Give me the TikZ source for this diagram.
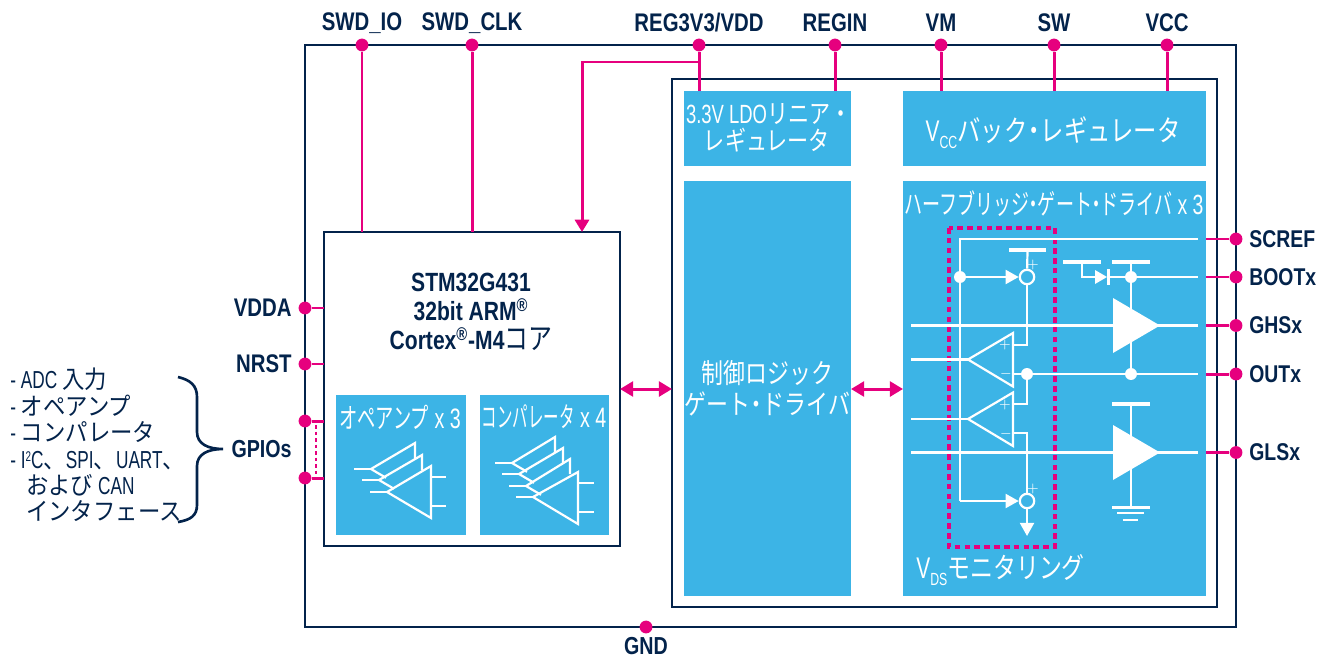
\documentclass[tikz,border=0pt]{standalone}
\usepackage{fontspec}
\setmainfont[FakeStretch=0.8]{Liberation Sans}
\newfontfamily\latc[FakeStretch=0.7]{Liberation Sans}
\newfontfamily\jpn[FakeStretch=0.8]{Noto Sans CJK JP}
\newfontfamily\jpl[FakeStretch=0.91]{Noto Sans CJK JP}
\newfontfamily\jpc[FakeStretch=0.65]{Noto Sans CJK JP}
\newfontfamily\jpd[FakeStretch=0.55]{Noto Sans CJK JP}
\newcommand{\nakaten}{\kern-2.8pt・\kern-2.8pt}
\usetikzlibrary{arrows.meta}
\tikzset{>=Stealth}
\definecolor{stnavy}{HTML}{03234B}
\definecolor{stblue}{HTML}{3CB4E6}
\definecolor{stpink}{HTML}{E6007E}
\tikzset{
  frm/.style={draw=stnavy, line width=1.6pt, inner sep=0pt, outer sep=0pt, anchor=north west},
  blk/.style={fill=stblue, text=white, inner sep=0pt, outer sep=0pt, anchor=north west, align=center,
    font=\fontsize{15.6}{17}\selectfont\latc},
  pin/.style={circle, fill=stpink, inner sep=0pt, minimum size=7.3pt},
  pinlbl/.style={text=stnavy, inner sep=0pt, font=\fontsize{14.5}{16}\selectfont\bfseries},
  sig/.style={draw=stpink, line width=1.7pt},
  wht/.style={draw=white, line width=1.25pt},
  whttxt/.style={text=white, inner sep=0pt, font=\fontsize{16}{18}\selectfont\latc},
  sgn/.style={text=white, inner sep=0pt, font=\fontsize{8}{8}\selectfont},
  jct/.style={circle, fill=white, inner sep=0pt, minimum size=6.8pt},
  sumr/.style={circle, draw=white, line width=1.25pt, inner sep=0pt, minimum size=8.2pt},
  whtarr/.style={wht, -{Triangle[length=7.5pt,width=8pt]}},
}
\begin{document}
\begin{tikzpicture}[x=0.02cm, y=-0.02cm]
  \useasboundingbox (0,0) rectangle (1317,659);
  % frames
  \node[frm, minimum width=931*0.02cm, minimum height=582*0.02cm] (chip) at (305,45) {};
  \node[frm, minimum width=545*0.02cm, minimum height=528*0.02cm] (pwr) at (672,79) {};
  \node[frm, minimum width=296*0.02cm, minimum height=314*0.02cm, align=center] (mcu) at (324,232) {};
  \node[text=stnavy, inner sep=0pt, align=center, font=\fontsize{15}{16.5}\selectfont\bfseries] (mcutxt) at (471,312)
    {STM32G431\\32bit ARM\textsuperscript{®}\\Cortex\textsuperscript{®}-M4{\jpn\mdseries\fontsize{17}{16.5}\selectfont コア}};
  % blue blocks
  \node[blk, minimum width=167*0.02cm, minimum height=75*0.02cm] (ldo) at (684,91) {};
  \node[blk, minimum width=303*0.02cm, minimum height=75*0.02cm] (buck) at (903,91) {};
  \node[blk, minimum width=167*0.02cm, minimum height=415*0.02cm] (ctrl) at (684,181)
    {{\jpn 制御ロジック}\\[0.6pt]{\jpn ゲート\nakaten ドライバ}};
  \node[blk, minimum width=303*0.02cm, minimum height=415*0.02cm] (hb) at (903,181) {};
  \node[blk, minimum width=130*0.02cm, minimum height=140*0.02cm] (opa) at (336,395) {};
  \node[blk, minimum width=129*0.02cm, minimum height=140*0.02cm] (cmp) at (480,395) {};
  \node[whttxt, align=center, font=\fontsize{15}{15}\selectfont\latc] (ldotxt) at (767,128)
    {3.3V LDO{\jpn リニア・\kern-2pt}\\[0.5pt]{\jpn レギュレータ}};
  \node[whttxt] (bucktxt) at (1053,130)
    {{\fontsize{17}{17}\selectfont V}\raisebox{-4pt}[0pt][0pt]{\fontsize{10}{10}\selectfont CC}{\jpn\fontsize{16.6}{17}\selectfont バック\nakaten レギュレータ}};
  \node[whttxt, font=\fontsize{15.8}{18}\selectfont\latc] (hbtxt) at (1054,204) {{\jpc ハーフブリッジ\nakaten ゲート\nakaten ドライバ} x 3};
  \node[whttxt] (opatxt) at (400,417) {{\jpc オペアンプ} x 3};
  \node[whttxt] (cmptxt) at (544,417) {{\jpd コンパレータ} x 4};
  \node[whttxt, anchor=west] (vdstxt) at (916,567) {{\fontsize{17}{17}\selectfont V}\raisebox{-4pt}[0pt][0pt]{\fontsize{10}{10}\selectfont DS}{\jpn\fontsize{16.3}{18}\selectfont モニタリング}};
  % pins along the top
  \foreach \nm/\xx/\txt in {swdio/362/SWD\_IO, swdclk/472/SWD\_CLK, reg/699/{REG3V3/VDD},
      regin/835/REGIN, vm/941/VM, sw/1054/SW, vcc/1167/VCC} {
    \node[pin] (\nm) at (\xx,45) {};
    \node[pinlbl] (\nm txt) at (\xx,23) {\txt};
  }
  \foreach \nm/\tg in {swdio/mcu, swdclk/mcu, reg/ldo, regin/ldo, vm/buck, sw/buck, vcc/buck}
    \draw[sig] (\nm) -- (\nm |- \tg.north);
  % supply branch into the MCU
  \coordinate (regtap) at (699,62);
  \coordinate (regbnd) at (582,62);
  \draw[sig, -{Triangle[length=7pt,width=8pt]}] (regtap) -- (regbnd) -- (regbnd |- mcu.north);
  % pins on the left
  \foreach \nm/\yy in {vdda/308, nrst/364, gpa/421, gpb/478} {
    \node[pin] (\nm) at (305,\yy) {};
    \draw[sig] (\nm) -- (\nm -| mcu.west);
  }
  \node[pinlbl, anchor=east] (vddatxt) at (292,308) {VDDA};
  \node[pinlbl, anchor=east] (nrsttxt) at (292,364) {NRST};
  \node[pinlbl, anchor=east, font=\fontsize{14}{16}\selectfont\bfseries] (gpiotxt) at (292,449) {GPIOs};
  \coordinate (gpdota) at (316,425);
  \coordinate (gpdotb) at (316,474);
  \draw[sig, dash pattern=on 2.2pt off 1.5pt] (gpdota) -- (gpdotb);
  % bottom pin
  \node[pin] (gnd) at (646,627) {};
  \node[pinlbl, font=\fontsize{14}{16}\selectfont\bfseries] (gndtxt) at (646,646) {GND};
  % pins on the right
  \foreach \nm/\yy/\txt in {scref/239/SCREF, boot/277/BOOTx, ghs/325.5/GHSx, out/374/OUTx, gls/452.5/GLSx} {
    \node[pin] (\nm) at (1236,\yy) {};
    \draw[sig] (\nm -| hb.east) -- (\nm);
    \node[pinlbl, anchor=west, font=\fontsize{13.8}{16}\selectfont\bfseries] (\nm txt) at (1249,\yy) {\txt};
  }
  % GPIO functions and brace
  \node[text=stnavy, inner sep=0pt, anchor=north west, align=left, font=\fontsize{14}{15}\selectfont\latc] (gplist) at (10,368)
    {- ADC {\jpl 入力}\\- {\jpl オペアンプ}\\- {\jpl コンパレータ}\\- I{\fontsize{8}{8}\selectfont\raisebox{4pt}{2}}C{\jpl 、}SPI{\jpl 、}UART{\jpl 、}\\
     \hspace*{9pt}{\jpl および} CAN\\\hspace*{9pt}{\jpl インタフェース}};
  \coordinate (brtop) at (178,377);
  \coordinate (brtip) at (223,449);
  \coordinate (brbot) at (178,522);
  \draw[stnavy, line width=1.5pt] (brtop) .. controls (190,380) and (197,385) .. (197,397) -- (197,432)
    .. controls (197,444) and (208,449) .. (brtip) .. controls (208,449) and (197,454) .. (197,466)
    -- (197,505) .. controls (197,516) and (190,520) .. (brbot);
  % bus arrows
  \coordinate (busa) at (mcu.east |- 0,389);
  \coordinate (busb) at (pwr.west |- 0,389);
  \coordinate (busc) at (ctrl.east |- 0,389);
  \coordinate (busd) at (hb.west |- 0,389);
  \draw[sig, {Triangle[length=7.5pt,width=8.5pt]}-{Triangle[length=7.5pt,width=8.5pt]}] (busa) -- (busb);
  \draw[sig, {Triangle[length=7.5pt,width=8.5pt]}-{Triangle[length=7.5pt,width=8.5pt]}] (busc) -- (busd);
  % op amp stack
  \foreach \tx/\ty/\rx/\ry/\ex/\ey in {371/469/415/443/415/458, 379/480/422/455/422/470} {
    \draw[wht] (\ex,\ey) -- (\rx,\ry) -- (\tx,\ty) -- ++(15,8.8);
    \draw[wht] (\tx-17,\ty) -- (\tx,\ty);
  }
  \draw[wht] (431,466) -- (431,518) -- (387,492) -- cycle;
  \draw[wht] (370,492) -- (387,492);
  \draw[wht] (431,477) -- (446,477);
  \draw[wht] (431,506) -- (446,506);
  % comparator stack
  \foreach \tx/\ty/\rx/\ry/\ex/\ey in {512/463/555/437/555/452, 519/474/563/448/563/463, 526/486/570/459/570/474} {
    \draw[wht] (\ex,\ey) -- (\rx,\ry) -- (\tx,\ty) -- ++(15,8.8);
    \draw[wht] (\tx-17,\ty) -- (\tx,\ty);
  }
  \draw[wht] (578,472) -- (578,524) -- (533,497) -- cycle;
  \draw[wht] (516,497) -- (533,497);
  \draw[wht] (578,483) -- (594,483);
  \draw[wht] (578,512) -- (594,512);
  % VDS monitor
  \draw[stpink, line width=2pt, dash pattern=on 3.2pt off 2.4pt] (949,228) rectangle (1055,547);
  \coordinate (hbend) at (1198,239);
  \coordinate (sensetop) at (960,239);
  \coordinate (sensebot) at (960,501);
  \node[sumr] (suma) at (1027,277) {};
  \node[sumr] (sumb) at (1027,501) {};
  \node[jct] (jsense) at (960,277) {};
  \node[sgn] (plusa) at (1033,265) {$+$};
  \node[sgn] (plusb) at (1033,489) {$+$};
  \draw[wht] (hbend) -- (sensetop) -- (sensebot);
  \draw[whtarr] (jsense) -- (suma);
  \draw[whtarr] (sensebot) -- (sumb);
  % supply bars
  \foreach \nm/\xa/\xb/\yy/\lw in {bara/1009/1046/250/2.4, barb/1063/1101/262/2.4, barc/1112/1150/262/2.4, bard/1112/1150/404/2.4, gnda/1112/1150/507/1.7, gndb/1117/1144/513/1.5, gndc/1123/1138/520/1.5} {
    \coordinate (\nm) at ({(\xa+\xb)/2},\yy);
    \draw[white, line width=\lw pt] (\xa,\yy) -- (\xb,\yy);
  }
  % comparators
  \foreach \tipy/\nm in {359.5/opu, 419/opl} {
    \draw[wht] (1013,\tipy-26.5) -- (1013,\tipy+27) -- (968,\tipy) -- cycle;
    \draw[wht] (911,\tipy) -- (968,\tipy);
    \node[sgn] (\nm p) at (1005,\tipy-14.5) {$+$};
    \node[sgn] (\nm m) at (1006,\tipy+14.5) {$-$};
  }
  \node[jct] (jout) at (1027,374) {};
  \node[jct] (jsw) at (1131,374) {};
  \node[jct] (jboot) at (1131,277) {};
  \coordinate (outend) at (1198,374);
  \coordinate (bootend) at (1198,277);
  \coordinate (sumdn) at (1027,536);
  \draw[wht] (bara) -- (suma);
  \draw[wht] (suma) -- (1027,345) -- (1013,345);
  \draw[wht] (1013,374) -- (jout) -- (jsw) -- (outend);
  \draw[wht] (jout) -- (1027,404) -- (1013,404);
  \draw[wht] (1013,433) -- (1027,433) -- (sumb);
  \draw[whtarr] (sumb) -- (sumdn);
  % gate drivers
  \foreach \yy/\nm in {325.5/hs, 452.5/ls} {
    \coordinate (\nm in) at (911,\yy);
    \coordinate (\nm end) at (1198,\yy);
    \draw[wht] (\nm in) -- (\nm end);
    \fill[white] (1113,\yy-27.5) -- (1160,\yy) -- (1113,\yy+27.5) -- cycle;
  }
  \draw[wht] (barc) -- (jboot) -- (jsw);
  \draw[wht] (bard) -- (gnda);
  % bootstrap diode
  \coordinate (diode) at (1095,277);
  \draw[wht] (barb) -- (barb |- diode) -- (diode);
  \fill[white] (1095,270) -- (1107,277) -- (1095,284) -- cycle;
  \draw[white, line width=1.3pt] (1108.5,269) -- (1108.5,285);
  \draw[wht] (1108.5,277) -- (jboot) -- (bootend);
\end{tikzpicture}
\end{document}
